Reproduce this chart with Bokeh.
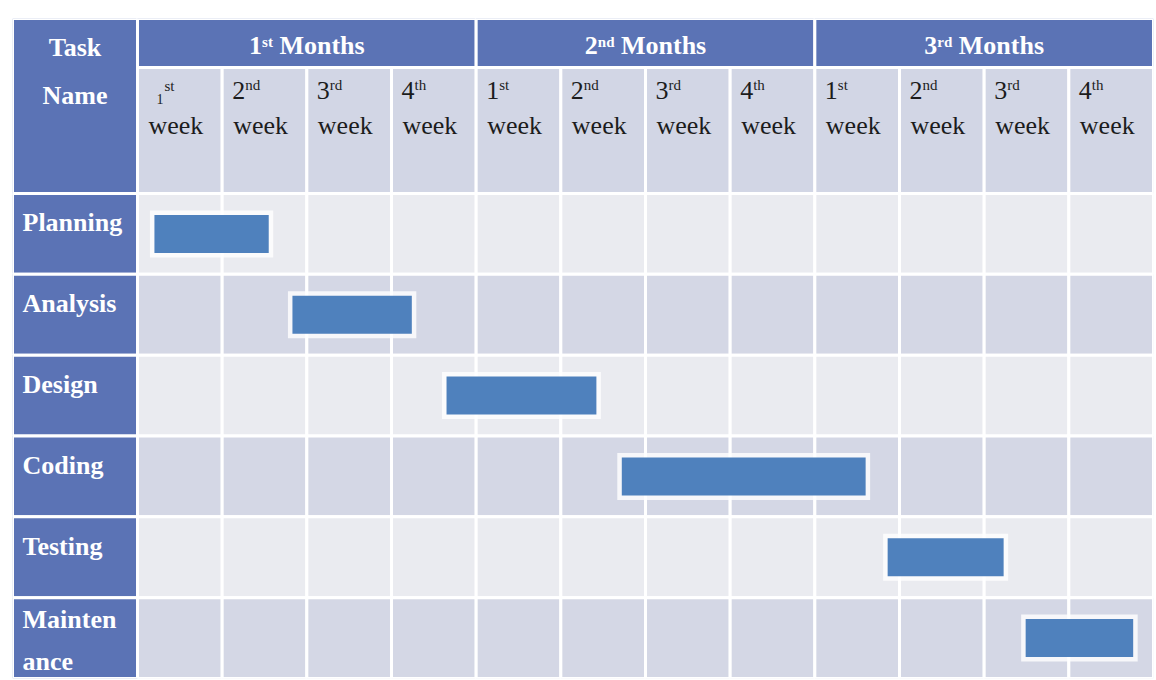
import numpy as np
from bokeh.plotting import figure
from bokeh.models import Range1d, ColumnDataSource
from bokeh.embed import file_html
from bokeh.resources import INLINE
from bokeh.core.properties import value

try:
    from bokeh.models.scales import LinearInterpolationScale
except ImportError:
    LinearInterpolationScale = None

# ---------------- data ----------------
tasks = ["Planning", "Analysis", "Design", "Coding", "Testing", "Maintenance"]
task_lines = [["Planning"], ["Analysis"], ["Design"], ["Coding"], ["Testing"], ["Mainten", "ance"]]
header_title = ["Task", "Name"]
month_numbers = ["1", "2", "3"]
month_suffixes = ["st", "nd", "rd"]
month_word = "Months"
week_numbers = ["1", "2", "3", "4"] * 3
week_suffixes = ["st", "nd", "rd", "th"] * 3
week_word = "week"
start_week = [0.20, 1.83, 3.65, 5.72, 8.86, 10.49]
end_week = [1.55, 3.24, 5.42, 8.60, 10.23, 11.76]

# ---------------- layout / style ----------------
W, H = 1156, 680
BL, BT, BR, BB = 12, 18, 3, 2
FW, FH = W - BL - BR, H - BT - BB
TASK_COL = 125
COL_W = [88, 86, 86, 78, 78, 78, 79, 78, 86, 106, 86, 87]   # drawn widths of week columns (px)
MONTH_ROW = 49
WEEK_ROW = 126
n_weeks = len(week_numbers)
n_tasks = len(tasks)
n_months = len(month_numbers)
wpm = n_weeks // n_months
kx = (FW - TASK_COL) / n_weeks
ky = (FH - MONTH_ROW - WEEK_ROW) / n_tasks
x0 = -TASK_COL / kx
y_week_top = -0.5 - WEEK_ROW / ky
y0 = y_week_top - MONTH_ROW / ky

extra = {}
if LinearInterpolationScale is not None:
    edge_px = np.concatenate([[0, TASK_COL], TASK_COL + np.cumsum(COL_W)]).astype(float)
    edge_dat = np.concatenate([[x0], np.arange(n_weeks + 1)])
    binning = np.interp(np.linspace(0, edge_px[-1], FW + 1), edge_px, edge_dat)
    binning[0], binning[-1] = x0, n_weeks
    extra["x_scale"] = LinearInterpolationScale(binning=list(binning))

BLUE = "#5b73b5"
WEEK_HDR = "#d2d6e5"
ROW_LIGHT = "#eaebf0"
ROW_DARK = "#d4d7e5"
BAR = "#4f81bd"
TXT = "#1c1c1c"
SERIF = value("Liberation Serif")
F_MAIN = 26
F_SUP = 15

BOLD_W = {"0": .5, "1": .5, "2": .5, "3": .5, "s": .389, "t": .333, "n": .556, "d": .556,
          "r": .444, "h": .556, "M": .944, "o": .5, " ": .25}


def tw(s, size):
    return sum(BOLD_W.get(c, .5) for c in s) * size


def yb(ref_y, px, fs):
    """data y of a text baseline lying px pixels below ref_y (compensating renderer baseline)."""
    return ref_y + (px - 0.3 * fs) / ky


p = figure(width=W, height=H, x_range=Range1d(x0, n_weeks), y_range=Range1d(n_tasks - 0.5, y0),
           output_backend="svg", toolbar_location=None, x_axis_location=None, y_axis_location=None,
           min_border_left=BL, min_border_top=BT, min_border_right=BR, min_border_bottom=BB, **extra)
p.grid.visible = False
p.outline_line_color = None
p.background_fill_color = "white"
p.border_fill_color = "white"

# body cells
bl, br, bt, bb, bc = [], [], [], [], []
for i in range(n_tasks):
    for j in range(n_weeks):
        bl.append(j); br.append(j + 1); bt.append(i - 0.5); bb.append(i + 0.5)
        bc.append(ROW_LIGHT if i % 2 == 0 else ROW_DARK)
p.quad(left=bl, right=br, top=bt, bottom=bb, fill_color=bc, line_color="white", line_width=3)

# task column cells
p.quad(left=[x0] * n_tasks, right=[0] * n_tasks, top=[i - 0.5 for i in range(n_tasks)],
       bottom=[i + 0.5 for i in range(n_tasks)], fill_color=BLUE, line_color="white", line_width=3)
# header task cell
p.quad(left=[x0], right=[0], top=[y0], bottom=[-0.5], fill_color=BLUE, line_color="white", line_width=3)
# month cells
p.quad(left=[m * wpm for m in range(n_months)], right=[(m + 1) * wpm for m in range(n_months)],
       top=[y0] * n_months, bottom=[y_week_top] * n_months, fill_color=BLUE, line_color="white", line_width=3)
# week header cells
p.quad(left=list(range(n_weeks)), right=[j + 1 for j in range(n_weeks)], top=[y_week_top] * n_weeks,
       bottom=[-0.5] * n_weeks, fill_color=WEEK_HDR, line_color="white", line_width=3)

# bars with white halo
half = 19 / ky
src = ColumnDataSource(dict(start=start_week, end=end_week, task=tasks,
                            top=[i - half for i in range(n_tasks)],
                            bottom=[i + half for i in range(n_tasks)]))
gx, gy = 4.5 / kx, 4.5 / ky
p.quad(left=[s - gx for s in start_week], right=[e + gx for e in end_week],
       top=[i - half - gy for i in range(n_tasks)], bottom=[i + half + gy for i in range(n_tasks)],
       fill_color="white", fill_alpha=0.8, line_color=None)
p.quad(left="start", right="end", top="top", bottom="bottom", source=src, fill_color=BAR, line_color=None)

# header "Task / Name"
p.text(x=[x0] * 2, y=[yb(y0, 37, F_MAIN), yb(y0, 85, F_MAIN)], text=header_title, x_offset=TASK_COL / 2,
       text_align="center", text_baseline="alphabetic", text_font=SERIF, text_font_style="bold",
       text_font_size=f"{F_MAIN}px", text_color="white")

# month labels
for m in range(n_months):
    num, suf = month_numbers[m], month_suffixes[m]
    full = tw(num, F_MAIN) + tw(suf, F_SUP) + tw(" " + month_word, F_MAIN)
    cx = m * wpm + wpm / 2
    p.text(x=[cx], y=[yb(y0, 35, F_MAIN)], text=[num], x_offset=-full / 2, text_align="left",
           text_baseline="alphabetic", text_font=SERIF, text_font_style="bold",
           text_font_size=f"{F_MAIN}px", text_color="white")
    p.text(x=[cx], y=[yb(y0, 28, F_SUP)], text=[suf], x_offset=-full / 2 + tw(num, F_MAIN),
           text_align="left", text_baseline="alphabetic", text_font=SERIF, text_font_style="bold",
           text_font_size=f"{F_SUP}px", text_color="white")
    p.text(x=[cx], y=[yb(y0, 35, F_MAIN)], text=[month_word],
           x_offset=-full / 2 + tw(num, F_MAIN) + tw(suf, F_SUP) + tw(" ", F_MAIN),
           text_align="left", text_baseline="alphabetic", text_font=SERIF, text_font_style="bold",
           text_font_size=f"{F_MAIN}px", text_color="white")

# week labels
for j in range(n_weeks):
    if j == 0:
        p.text(x=[j], y=[yb(y_week_top, 23, F_SUP)], text=[week_suffixes[j]], x_offset=27, text_align="left",
               text_baseline="alphabetic", text_font=SERIF, text_font_size=f"{F_SUP}px", text_color=TXT)
        p.text(x=[j], y=[yb(y_week_top, 36, 14)], text=[week_numbers[j]], x_offset=19, text_align="left",
               text_baseline="alphabetic", text_font=SERIF, text_font_size="14px", text_color=TXT)
    else:
        p.text(x=[j], y=[yb(y_week_top, 31, F_MAIN)], text=[week_numbers[j]], x_offset=10, text_align="left",
               text_baseline="alphabetic", text_font=SERIF, text_font_size=f"{F_MAIN}px", text_color=TXT)
        p.text(x=[j], y=[yb(y_week_top, 22, F_SUP)], text=[week_suffixes[j]], x_offset=23, text_align="left",
               text_baseline="alphabetic", text_font=SERIF, text_font_size=f"{F_SUP}px", text_color=TXT)
p.text(x=list(range(n_weeks)), y=[yb(y_week_top, 66, F_MAIN)] * n_weeks, text=[week_word] * n_weeks,
       x_offset=11, text_align="left", text_baseline="alphabetic", text_font=SERIF,
       text_font_size=f"{F_MAIN}px", text_color=TXT)

# task names
tx, ty, tt = [], [], []
for i, lines in enumerate(task_lines):
    first = 37 if len(lines) == 1 else 30
    for k, line in enumerate(lines):
        tx.append(x0); ty.append(yb(i - 0.5, first + 42 * k, F_MAIN)); tt.append(line)
p.text(x=tx, y=ty, text=tt, x_offset=10, text_align="left", text_baseline="alphabetic", text_font=SERIF,
       text_font_style="bold", text_font_size=f"{F_MAIN}px", text_color="white")

open("out.html", "w").write(file_html(p, INLINE))
